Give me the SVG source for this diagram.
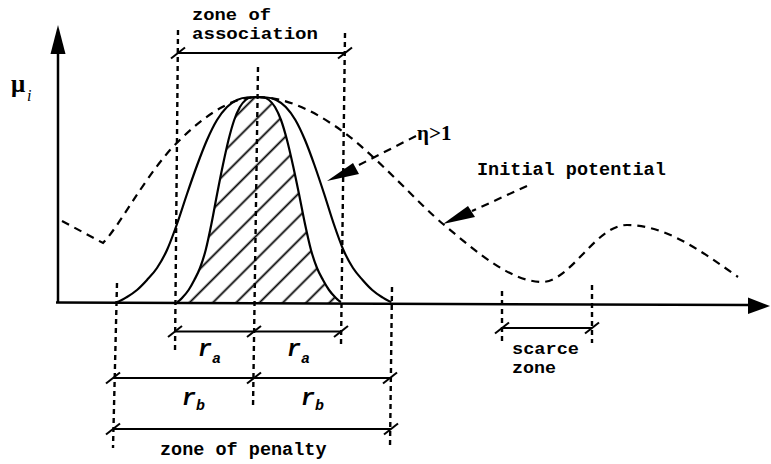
<svg xmlns="http://www.w3.org/2000/svg" width="771" height="464" viewBox="0 0 771 464">
<style>
.ax{stroke:#000;stroke-width:2.5;fill:none}
.sol{stroke:#000;stroke-width:2.2;fill:none}
.vd{stroke:#000;stroke-width:2.4;stroke-dasharray:5 4;fill:none}
.cd{stroke:#000;stroke-width:2.2;stroke-dasharray:8 6;fill:none}
.dim{stroke:#000;stroke-width:1.8;fill:none}
.mono{font-family:"Liberation Mono","Courier New",monospace;font-weight:bold;font-size:18.5px;fill:#000}
.mono2{font-family:"Liberation Mono","Courier New",monospace;font-weight:bold;font-size:16.5px;fill:#000}
.ser{font-family:"Liberation Serif","Times New Roman",serif;fill:#000}
.ri{font-family:"Liberation Mono","Courier New",monospace;font-style:italic;font-weight:bold;fill:#000}
</style>
<defs>
<path id="half" vector-effect="non-scaling-stroke" d="M-140,302 C-136.67,301.17 -133.33,299 -130,297 C-126.67,295 -123.33,292.83 -120,290 C-116.67,287.17 -113.33,283.67 -110,280 C-106.67,276.33 -103.33,273 -100,268 C-96.67,263 -93.33,257.33 -90,250 C-86.67,242.67 -83.33,233.33 -80,224 C-76.67,214.67 -73.33,203.75 -70,194 C-66.67,184.25 -63.33,174.5 -60,165.5 C-56.67,156.5 -53.33,147.58 -50,140 C-46.67,132.42 -43.33,125.5 -40,120 C-36.67,114.5 -33.33,110.33 -30,107 C-26.67,103.67 -23.33,101.58 -20,100 C-16.67,98.42 -13.33,97.5 -10,97.5 C-6.67,97.5 -3.33,97 0,97"/>
<path id="halfc" d="M-140,302 C-136.67,301.17 -133.33,299 -130,297 C-126.67,295 -123.33,292.83 -120,290 C-116.67,287.17 -113.33,283.67 -110,280 C-106.67,276.33 -103.33,273 -100,268 C-96.67,263 -93.33,257.33 -90,250 C-86.67,242.67 -83.33,233.33 -80,224 C-76.67,214.67 -73.33,203.75 -70,194 C-66.67,184.25 -63.33,174.5 -60,165.5 C-56.67,156.5 -53.33,147.58 -50,140 C-46.67,132.42 -43.33,125.5 -40,120 C-36.67,114.5 -33.33,110.33 -30,107 C-26.67,103.67 -23.33,101.58 -20,100 C-16.67,98.42 -13.33,97.5 -10,97.5 C-6.67,97.5 -3.33,97 0,97 L1,97 L1,304 L-140,304 Z"/>
<path id="tk" d="M-7,5.5 L7,-5.5" stroke="#000" stroke-width="2"/>
<pattern id="hatch" patternUnits="userSpaceOnUse" width="16.5" height="10" patternTransform="rotate(45)">
<line x1="1.5" y1="-1" x2="1.5" y2="11" stroke="#000" stroke-width="1.8"/>
</pattern>
<clipPath id="innerClip">
<use href="#halfc" transform="translate(257,0) scale(0.57,1)"/>
<use href="#halfc" transform="translate(257,0) scale(-0.6,1)"/>
</clipPath>
</defs>
<rect width="771" height="464" fill="#fff"/>

<g id="hatching">
<rect x="170" y="90" width="180" height="213" fill="url(#hatch)" clip-path="url(#innerClip)"/>
</g>

<g id="guides">
<path class="vd" d="M178,30 L175,352"/>
<path class="vd" d="M258,67 L253,408"/>
<path class="vd" d="M345,33 L341,345"/>
<path class="vd" d="M117,283 L113,448"/>
<path class="vd" d="M392,287 L390,447"/>
<path class="vd" d="M502,291 L502,343"/>
<path class="vd" d="M592,285 L592,343"/>
</g>

<g id="potential-curves">
<use href="#half" class="sol" transform="translate(257,0)"/>
<use href="#half" class="sol" transform="translate(257,0) scale(-0.96,1)"/>
<use href="#half" class="sol" transform="translate(257,0) scale(0.57,1)"/>
<use href="#half" class="sol" transform="translate(257,0) scale(-0.6,1)"/>
<path id="initial-potential" class="cd" d="M62,221 L103,243 C120,225 140,185 170,150 C200,118 230,97 257,97 C290,97 320,115 345,133 C380,160 420,205 443,224 C480,255 510,280 540,282 C570,284 595,225 627,225 C665,225 700,250 738,277"/>
</g>

<g id="axes">
<path class="ax" d="M58,302.5 L58,50"/>
<polygon points="58,25 50.5,54 65.5,54"/>
<path class="ax" d="M56,302.5 L750,305"/>
<polygon points="770,306 748,297.5 748,314"/>
</g>

<g id="connectors">
<path class="cd" d="M416,136 L357,166"/>
<polygon points="327,181 353,163 359,174"/>
<path class="cd" d="M527,186 L472,211"/>
<polygon points="443,224 468,206 475,217"/>
</g>

<g id="dimensions">
<path class="dim" d="M178,53 H345"/>
<use href="#tk" x="178" y="53"/><use href="#tk" x="345" y="53"/>
<path class="dim" d="M175,331.5 H341"/>
<use href="#tk" x="175" y="331.5"/><use href="#tk" x="254" y="331.5"/><use href="#tk" x="341" y="331.5"/>
<path class="dim" d="M113,378 H390"/>
<use href="#tk" x="113" y="378"/><use href="#tk" x="254" y="378"/><use href="#tk" x="390" y="378"/>
<path class="dim" d="M113,429 H391"/>
<use href="#tk" x="113" y="429"/><use href="#tk" x="391" y="429"/>
<path class="dim" d="M502,328 H592"/>
<use href="#tk" x="502" y="328"/><use href="#tk" x="592" y="328"/>
</g>

<g id="labels">
<g id="label-mu"><text class="ser" x="11" y="92" font-size="25" font-weight="bold">μ<tspan x="27" y="101" font-size="16" font-style="italic" font-weight="normal">i</tspan></text></g>
<g id="label-association"><text class="mono2" x="192" y="20" textLength="79" lengthAdjust="spacingAndGlyphs">zone of</text><text class="mono2" x="192" y="39" textLength="126" lengthAdjust="spacingAndGlyphs">association</text></g>
<g id="label-eta"><text class="ser" x="417" y="140" font-size="21" font-weight="bold">η&gt;1</text></g>
<g id="label-initial"><text class="mono" x="477" y="175" font-size="18">Initial potential</text></g>
<g id="label-ra1"><text class="ri" x="198" y="356" font-size="23">r<tspan x="212" y="363" font-size="15">a</tspan></text></g>
<g id="label-ra2"><text class="ri" x="287" y="356" font-size="23">r<tspan x="301" y="363" font-size="15">a</tspan></text></g>
<g id="label-rb1"><text class="ri" x="182" y="405" font-size="23">r<tspan x="196" y="410" font-size="15">b</tspan></text></g>
<g id="label-rb2"><text class="ri" x="301" y="405" font-size="23">r<tspan x="315" y="410" font-size="15">b</tspan></text></g>
<g id="label-penalty"><text class="mono" x="160" y="455">zone of penalty</text></g>
<g id="label-scarce"><text class="mono2" x="512" y="354" textLength="67" lengthAdjust="spacingAndGlyphs">scarce</text><text class="mono2" x="512" y="373" textLength="44" lengthAdjust="spacingAndGlyphs">zone</text></g>
</g>
</svg>
